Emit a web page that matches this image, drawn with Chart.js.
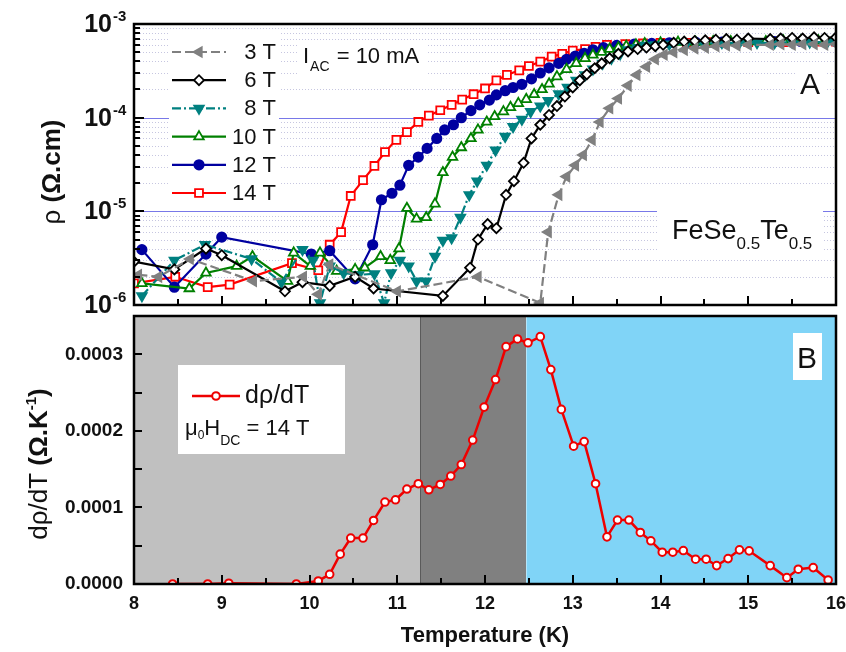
<!DOCTYPE html>
<html>
<head>
<meta charset="utf-8">
<script src="https://cdn.jsdelivr.net/npm/chart.js@4.4.1/dist/chart.umd.min.js"></script>
<style>
  html, body { margin: 0; padding: 0; background: #fff; }
  #wrap { position: relative; width: 846px; height: 652px; }
  canvas { position: absolute; left: 0; top: 0; }
</style>
</head>
<body>
<div id="wrap">
  <canvas id="lower" width="846" height="652"></canvas>
  <canvas id="upper" width="846" height="652"></canvas>
</div>
<script>
// ---- panel A : resistivity vs temperature, one series per field ----
const t3 = [8.05, 8.28, 8.64, 9.36, 9.93, 10.1, 10.23, 11.0, 11.92, 12.63, 12.72, 12.84, 12.93, 13.03, 13.12, 13.22, 13.31, 13.42, 13.52, 13.63, 13.73, 13.84, 13.94, 14.04, 14.15, 14.27, 14.39, 14.51, 14.63, 14.75, 14.87, 15.0, 15.25, 15.37, 15.5, 15.62, 15.75, 15.87, 16.0];
const r3 = [2.1e-6, 2.0e-6, 3.1e-6, 1.8e-6, 2.0e-6, 1.3e-6, 2.7e-6, 1.4e-6, 2.0e-6, 1.05e-6, 6.0e-6, 1.5e-5, 2.35e-5, 3.1e-5, 4.0e-5, 5.8e-5, 9.0e-5, 1.26e-4, 1.6e-4, 2.2e-4, 2.86e-4, 3.5e-4, 4.2e-4, 4.7e-4, 5.0e-4, 5.3e-4, 5.5e-4, 5.6e-4, 5.8e-4, 5.9e-4, 5.9e-4, 6.0e-4, 6.0e-4, 6.1e-4, 6.0e-4, 6.1e-4, 6.1e-4, 6.0e-4, 6.1e-4];

const t6 = [8.0, 8.46, 8.82, 9.0, 9.72, 9.92, 10.23, 10.52, 10.73, 11.52, 11.83, 11.92, 12.03, 12.13, 12.24, 12.33, 12.44, 12.53, 12.63, 12.73, 12.82, 12.91, 13.0, 13.08, 13.16, 13.25, 13.33, 13.42, 13.52, 13.63, 13.74, 13.84, 13.94, 14.03, 14.15, 14.27, 14.39, 14.51, 14.63, 14.75, 14.87, 15.0, 15.25, 15.37, 15.5, 15.62, 15.75, 15.87, 16.0];
const r6 = [2.9e-6, 2.4e-6, 4.0e-6, 3.4e-6, 1.4e-6, 1.75e-6, 1.6e-6, 2.0e-6, 1.5e-6, 1.25e-6, 2.5e-6, 5.0e-6, 7.3e-6, 6.6e-6, 1.5e-5, 2.1e-5, 3.3e-5, 6.0e-5, 8.4e-5, 1.07e-4, 1.33e-4, 1.68e-4, 2.1e-4, 2.5e-4, 2.9e-4, 3.37e-4, 3.8e-4, 4.3e-4, 4.8e-4, 5.1e-4, 5.4e-4, 5.6e-4, 5.8e-4, 6.0e-4, 6.3e-4, 6.5e-4, 6.6e-4, 6.7e-4, 6.8e-4, 6.9e-4, 6.8e-4, 7.0e-4, 6.9e-4, 7.0e-4, 7.1e-4, 7.0e-4, 7.2e-4, 7.1e-4, 7.2e-4];

const t8 = [8.09, 8.46, 8.81, 9.34, 9.68, 9.92, 10.04, 10.12, 10.23, 10.39, 10.56, 10.74, 10.85, 10.93, 11.03, 11.13, 11.22, 11.33, 11.43, 11.52, 11.62, 11.72, 11.82, 11.91, 12.02, 12.12, 12.23, 12.32, 12.42, 12.52, 12.63, 12.72, 12.84, 12.94, 13.04, 13.14, 13.23, 13.34, 13.44, 13.54, 13.63, 13.74, 13.83, 13.95, 14.1, 14.3, 14.5, 14.7, 14.9, 15.1, 15.3, 15.5, 15.7, 15.9, 16.0];
const r8 = [1.25e-6, 3.0e-6, 4.4e-6, 3.1e-6, 1.75e-6, 3.9e-6, 3.0e-6, 1.05e-6, 2.6e-6, 2.2e-6, 2.1e-6, 2.15e-6, 1.05e-6, 2.2e-6, 3.0e-6, 2.6e-6, 1.8e-6, 1.8e-6, 3.3e-6, 4.9e-6, 5.2e-6, 8.6e-6, 1.5e-5, 2.1e-5, 3.1e-5, 4.5e-5, 6.3e-5, 8.0e-5, 9.6e-5, 1.16e-4, 1.33e-4, 1.52e-4, 1.79e-4, 2.1e-4, 2.5e-4, 2.86e-4, 3.3e-4, 3.8e-4, 4.3e-4, 4.8e-4, 5.3e-4, 5.6e-4, 5.9e-4, 6.0e-4, 6.1e-4, 6.2e-4, 6.2e-4, 6.3e-4, 6.3e-4, 6.3e-4, 6.3e-4, 6.4e-4, 6.4e-4, 6.4e-4, 6.4e-4];

const t10 = [8.09, 8.63, 8.82, 9.17, 9.35, 9.75, 9.82, 10.01, 10.12, 10.31, 10.52, 10.63, 10.81, 10.92, 11.02, 11.11, 11.22, 11.33, 11.43, 11.52, 11.63, 11.73, 11.84, 11.92, 12.02, 12.11, 12.21, 12.29, 12.38, 12.47, 12.56, 12.65, 12.73, 12.82, 12.93, 13.04, 13.14, 13.23, 13.33, 13.42, 13.52, 13.61, 13.72, 13.82, 14.0, 14.2, 14.4, 14.6, 14.8, 15.0, 15.2, 15.4, 15.6, 15.8, 16.0];
const r10 = [1.7e-6, 1.5e-6, 2.2e-6, 2.6e-6, 3.3e-6, 1.8e-6, 3.6e-6, 2.6e-6, 3.6e-6, 2.3e-6, 2.4e-6, 2.5e-6, 3.3e-6, 3.0e-6, 4.0e-6, 1.08e-5, 8.3e-6, 8.6e-6, 1.2e-5, 2.6e-5, 3.8e-5, 4.8e-5, 6.0e-5, 7.4e-5, 9.0e-5, 1.03e-4, 1.16e-4, 1.29e-4, 1.42e-4, 1.57e-4, 1.77e-4, 2.0e-4, 2.3e-4, 2.74e-4, 3.28e-4, 3.8e-4, 4.3e-4, 4.67e-4, 5.0e-4, 5.4e-4, 5.6e-4, 5.8e-4, 6.0e-4, 6.2e-4, 6.3e-4, 6.4e-4, 6.4e-4, 6.5e-4, 6.5e-4, 6.5e-4, 6.5e-4, 6.6e-4, 6.6e-4, 6.6e-4, 6.6e-4];

const t12 = [8.09, 8.46, 8.82, 9.0, 10.02, 10.23, 10.52, 10.72, 10.82, 10.94, 11.03, 11.13, 11.24, 11.34, 11.45, 11.54, 11.64, 11.73, 11.84, 11.94, 12.05, 12.13, 12.23, 12.32, 12.42, 12.53, 12.63, 12.73, 12.84, 12.93, 13.03, 13.13, 13.23, 13.35, 13.5, 13.7, 13.9, 14.1, 14.4, 14.7, 15.0, 15.3, 15.6, 16.0];
const r12 = [3.9e-6, 1.55e-6, 3.5e-6, 5.3e-6, 3.5e-6, 3.8e-6, 1.9e-6, 4.4e-6, 1.33e-5, 1.56e-5, 1.9e-5, 3.1e-5, 3.8e-5, 4.7e-5, 6.0e-5, 7.4e-5, 8.4e-5, 1.0e-4, 1.19e-4, 1.37e-4, 1.54e-4, 1.75e-4, 1.94e-4, 2.1e-4, 2.27e-4, 2.6e-4, 3.0e-4, 3.4e-4, 3.8e-4, 4.2e-4, 4.55e-4, 4.87e-4, 5.3e-4, 5.6e-4, 5.9e-4, 6.1e-4, 6.2e-4, 6.3e-4, 6.4e-4, 6.4e-4, 6.5e-4, 6.5e-4, 6.5e-4, 6.5e-4];

const t14 = [8.0, 8.47, 8.84, 9.09, 9.8, 10.1, 10.23, 10.36, 10.47, 10.61, 10.74, 10.86, 10.99, 11.11, 11.24, 11.36, 11.49, 11.62, 11.74, 11.87, 12.0, 12.13, 12.25, 12.39, 12.5, 12.63, 12.76, 12.88, 13.0, 13.14, 13.26, 13.39, 13.6, 13.8, 14.0, 14.3, 14.6, 15.0, 15.4, 15.8, 16.0];
const r14 = [1.7e-6, 2.0e-6, 1.55e-6, 1.65e-6, 2.8e-6, 2.35e-6, 4.4e-6, 6.0e-6, 1.46e-5, 2.15e-5, 3.05e-5, 4.3e-5, 5.8e-5, 7.0e-5, 9.0e-5, 1.05e-4, 1.2e-4, 1.37e-4, 1.56e-4, 1.78e-4, 2.05e-4, 2.5e-4, 2.86e-4, 3.2e-4, 3.56e-4, 3.96e-4, 4.48e-4, 4.8e-4, 5.2e-4, 5.4e-4, 5.7e-4, 6.0e-4, 6.1e-4, 6.2e-4, 6.3e-4, 6.3e-4, 6.4e-4, 6.4e-4, 6.4e-4, 6.5e-4, 6.5e-4];

const fieldLabels = ['3 T', '6 T', '8 T', '10 T', '12 T', '14 T'];
const seriesT = [t3, t6, t8, t10, t12, t14];
const seriesR = [r3, r6, r8, r10, r12, r14];
const decadeValues = [1e-6, 1e-5, 1e-4, 1e-3];
const decadeLabels = ['-6', '-5', '-4', '-3'];

// ---- panel B : derivative at 14 T ----
const dT = [8.44, 8.84, 9.08, 9.85, 10.1, 10.23, 10.35, 10.47, 10.61, 10.73, 10.86, 10.98, 11.11, 11.24, 11.36, 11.49, 11.61, 11.73, 11.86, 11.99, 12.12, 12.24, 12.37, 12.49, 12.63, 12.75, 12.87, 13.01, 13.13, 13.26, 13.39, 13.51, 13.64, 13.77, 13.89, 14.02, 14.14, 14.26, 14.4, 14.52, 14.64, 14.77, 14.9, 15.01, 15.25, 15.44, 15.57, 15.74, 15.91];
const dRho = [0, 0, 0.000001, 0, 0.000004, 0.0000127, 0.000039, 0.00006, 0.00006, 0.000083, 0.000107, 0.00011, 0.000124, 0.000131, 0.000123, 0.00013, 0.000141, 0.000156, 0.000188, 0.000231, 0.000267, 0.00031, 0.00032, 0.000315, 0.000323, 0.00028, 0.000228, 0.00018, 0.000186, 0.000131, 0.0000616, 0.0000835, 0.0000835, 0.0000673, 0.0000564, 0.0000415, 0.0000415, 0.0000437, 0.0000324, 0.0000324, 0.000024, 0.0000332, 0.0000446, 0.0000433, 0.000024, 0.0000083, 0.0000193, 0.0000214, 0.0000052];
const regionEdges = [8, 11.26, 12.47, 16];
const derivTicks = [0, 0.0001, 0.0002, 0.0003];
const derivTickLabels = ['0.0000', '0.0001', '0.0002', '0.0003'];
const tempTicks = [8, 9, 10, 11, 12, 13, 14, 15, 16];

// styles
const F = '"Liberation Sans", Arial, Helvetica, sans-serif';
const styles = [
  { color: '#808080', point: 'triangle', rot: -90, fill: '#808080', dash: [9, 4], r: 5.5 },
  { color: '#000000', point: 'rectRot', rot: 0, fill: '#ffffff', dash: [], r: 5 },
  { color: '#008080', point: 'triangle', rot: 180, fill: '#008080', dash: [9, 3, 2, 3], r: 5.5 },
  { color: '#008000', point: 'triangle', rot: 0, fill: '#ffffff', dash: [], r: 5.5 },
  { color: '#0000a0', point: 'circle', rot: 0, fill: '#0000a0', dash: [], r: 4.7 },
  { color: '#ff0000', point: 'rect', rot: 0, fill: '#ffffff', dash: [], r: 5.6 }
];
const regionColors = ['#c0c0c0', '#808080', '#80d4f7'];

function txt(ctx, s, x, y, font, align, base) {
  ctx.font = font;
  ctx.textAlign = align || 'left';
  ctx.textBaseline = base || 'alphabetic';
  ctx.fillText(s, x, y);
  return ctx.measureText(s).width;
}
function hline(ctx, x1, x2, y) { ctx.beginPath(); ctx.moveTo(x1, y); ctx.lineTo(x2, y); ctx.stroke(); }
function vline(ctx, x, y1, y2) { ctx.beginPath(); ctx.moveTo(x, y1); ctx.lineTo(x, y2); ctx.stroke(); }

function marker(ctx, st, x, y) {
  ctx.save();
  ctx.fillStyle = st.fill;
  ctx.strokeStyle = st.color;
  ctx.lineWidth = 1.8;
  ctx.setLineDash([]);
  Chart.helpers.drawPoint(ctx, { pointStyle: st.point, radius: st.r, rotation: st.rot, borderWidth: 1.8 }, x, y);
  ctx.restore();
}

function tempTickMarks(ctx, a, x) {
  ctx.strokeStyle = '#000';
  ctx.lineWidth = 2;
  for (let v = 8.5; v < 16; v += 0.5) {
    const px = Math.round(x.getPixelForValue(v));
    const len = Number.isInteger(v) ? 9 : 6;
    vline(ctx, px, a.bottom, a.bottom - len);
  }
}

// ---- panel A decorations ----
const upperDecor = {
  id: 'upperDecor',
  beforeDatasetsDraw(chart) {
    const { ctx, chartArea: a, scales: { y } } = chart;
    ctx.save();
    ctx.lineWidth = 1;
    ctx.strokeStyle = '#c6c6e0';
    ctx.setLineDash([1, 2]);
    for (let e = -6; e < -3; e++) {
      for (let m = 2; m < 10; m++) {
        const py = Math.round(y.getPixelForValue(m * Math.pow(10, e))) + 0.5;
        hline(ctx, a.left, a.right, py);
      }
    }
    ctx.setLineDash([]);
    ctx.strokeStyle = '#7878e8';
    [1e-5, 1e-4].forEach(v => hline(ctx, a.left, a.right, Math.round(y.getPixelForValue(v)) + 0.5));
    // white boxes under the legend and the labels
    ctx.fillStyle = '#fff';
    ctx.fillRect(169, 30, 110, 176);
    ctx.fillRect(298, 40, 128, 40);
    ctx.fillRect(657, 206, 166, 50);
    ctx.fillRect(796, 66, 30, 36);
    ctx.restore();
  },
  afterDraw(chart) {
    const { ctx, chartArea: a, scales: { x, y } } = chart;
    ctx.save();
    ctx.fillStyle = '#000';
    // legend
    styles.forEach((st, i) => {
      const cy = 52 + i * 28.2;
      ctx.strokeStyle = st.color;
      ctx.lineWidth = 2.2;
      ctx.setLineDash(st.dash);
      hline(ctx, 172, 226, cy);
      ctx.setLineDash([]);
      marker(ctx, st, 199, cy);
      ctx.fillStyle = '#111';
      txt(ctx, fieldLabels[i], 276, cy + 1, '22px ' + F, 'right', 'middle');
    });
    // text labels
    ctx.fillStyle = '#111';
    let w = txt(ctx, 'I', 303, 63, '22px ' + F);
    w += txt(ctx, 'AC', 304 + w, 71, '14px ' + F);
    txt(ctx, ' = 10 mA', 305 + w, 63, '22px ' + F);
    txt(ctx, 'A', 810, 94, '30px ' + F, 'center');
    let fx = 672;
    fx += txt(ctx, 'FeSe', fx, 239, '27px ' + F);
    fx += txt(ctx, '0.5', fx, 249, '17px ' + F);
    fx += txt(ctx, 'Te', fx, 239, '27px ' + F);
    txt(ctx, '0.5', fx, 249, '17px ' + F);

    // ticks
    tempTickMarks(ctx, a, x);
    ctx.lineWidth = 2;
    for (let e = -6; e < -3; e++) {
      for (let m = 1; m < 10; m++) {
        if (e === -6 && m === 1) continue;
        const py = Math.round(y.getPixelForValue(m * Math.pow(10, e)));
        hline(ctx, a.left, a.left + (m === 1 ? 10 : 6), py);
      }
    }
    // frame
    ctx.lineWidth = 2.5;
    ctx.strokeRect(a.left, a.top, a.right - a.left, a.bottom - a.top);

    // y tick labels 10^n
    ctx.fillStyle = '#111';
    decadeValues.forEach((v, i) => {
      const py = y.getPixelForValue(v);
      txt(ctx, '10', 112, py + 1, 'bold 25px ' + F, 'right', 'middle');
      txt(ctx, decadeLabels[i], 113, py - 7, 'bold 15px ' + F, 'left', 'middle');
    });
    // y title
    ctx.translate(53, 172);
    ctx.rotate(-Math.PI / 2);
    ctx.font = '26px ' + F;
    const w1 = ctx.measureText('ρ ').width;
    ctx.font = 'bold 26px ' + F;
    const w2 = ctx.measureText('(Ω.cm)').width;
    txt(ctx, 'ρ ', -(w1 + w2) / 2, 0, '26px ' + F, 'left', 'middle');
    txt(ctx, '(Ω.cm)', -(w1 + w2) / 2 + w1, 0, 'bold 26px ' + F, 'left', 'middle');
    ctx.restore();
  }
};

// ---- panel B decorations ----
const lowerDecor = {
  id: 'lowerDecor',
  beforeDatasetsDraw(chart) {
    const { ctx, chartArea: a, scales: { x } } = chart;
    ctx.save();
    for (let i = 0; i < regionColors.length; i++) {
      const x1 = x.getPixelForValue(regionEdges[i]);
      const x2 = x.getPixelForValue(regionEdges[i + 1]);
      ctx.fillStyle = regionColors[i];
      ctx.fillRect(x1, a.top, x2 - x1, a.bottom - a.top);
    }
    ctx.lineWidth = 1;
    ctx.strokeStyle = '#5a5a5a';
    vline(ctx, Math.round(x.getPixelForValue(regionEdges[1])) + 0.5, a.top, a.bottom);
    ctx.strokeStyle = '#b4e6fb';
    vline(ctx, Math.round(x.getPixelForValue(regionEdges[2])) + 0.5, a.top, a.bottom);
    ctx.fillStyle = '#fff';
    ctx.fillRect(178, 365, 167, 89);
    ctx.fillRect(793, 333, 29, 47);
    ctx.restore();
  },
  afterDraw(chart) {
    const { ctx, chartArea: a, scales: { x, y } } = chart;
    ctx.save();
    // legend
    ctx.strokeStyle = '#ee0000';
    ctx.lineWidth = 2.5;
    hline(ctx, 192, 240, 396);
    ctx.fillStyle = '#fff';
    ctx.lineWidth = 2;
    ctx.beginPath();
    ctx.arc(216, 396, 3.8, 0, Math.PI * 2);
    ctx.fill();
    ctx.stroke();
    ctx.fillStyle = '#111';
    txt(ctx, 'dρ/dT', 245, 396, '25px ' + F, 'left', 'middle');
    let mx = 185;
    mx += txt(ctx, 'μ', mx, 435, '22px ' + F);
    mx += txt(ctx, '0', mx, 439, '12px ' + F);
    mx += txt(ctx, 'H', mx, 435, '22px ' + F);
    mx += txt(ctx, 'DC', mx, 445, '14px ' + F);
    txt(ctx, ' = 14 T', mx, 435, '22px ' + F);
    txt(ctx, 'B', 807, 368, '30px ' + F, 'center');

    // ticks
    tempTickMarks(ctx, a, x);
    ctx.lineWidth = 2;
    for (let v = 0.00005; v < 0.00035; v += 0.00005) {
      hline(ctx, a.left, a.left + 8, Math.round(y.getPixelForValue(v)));
    }
    ctx.lineWidth = 2.5;
    ctx.strokeRect(a.left, a.top, a.right - a.left, a.bottom - a.top);

    // tick labels
    ctx.fillStyle = '#111';
    derivTicks.forEach((v, i) => {
      txt(ctx, derivTickLabels[i], 123, y.getPixelForValue(v), 'bold 19px ' + F, 'right', 'middle');
    });
    tempTicks.forEach(v => {
      txt(ctx, String(v), x.getPixelForValue(v), 604, 'bold 18px ' + F, 'center', 'middle');
    });
    txt(ctx, 'Temperature (K)', 485, 636, 'bold 22px ' + F, 'center', 'middle');

    // y title
    ctx.translate(40, 464);
    ctx.rotate(-Math.PI / 2);
    const fr = '26px ' + F, fb = 'bold 26px ' + F, fs = 'bold 15px ' + F;
    ctx.font = fr; const a1 = ctx.measureText('dρ/dT ').width;
    ctx.font = fb; const a2 = ctx.measureText('(Ω.K').width;
    ctx.font = fs; const a3 = ctx.measureText('-1').width;
    ctx.font = fb; const a4 = ctx.measureText(')').width;
    let tx = -(a1 + a2 + a3 + a4) / 2;
    tx += txt(ctx, 'dρ/dT ', tx, 0, fr, 'left', 'middle');
    tx += txt(ctx, '(Ω.K', tx, 0, fb, 'left', 'middle');
    tx += txt(ctx, '-1', tx, -8, fs, 'left', 'middle');
    txt(ctx, ')', tx, 0, fb, 'left', 'middle');
    ctx.restore();
  }
};

const upperSets = seriesT.map((ts, i) => ({
  label: fieldLabels[i],
  data: ts.map((t, k) => ({ x: t, y: seriesR[i][k] })),
  borderColor: styles[i].color,
  borderWidth: 2.2,
  borderDash: styles[i].dash,
  pointStyle: styles[i].point,
  pointRotation: styles[i].rot,
  pointRadius: styles[i].r,
  pointBackgroundColor: styles[i].fill,
  pointBorderColor: styles[i].color,
  pointBorderWidth: 1.8,
  tension: 0,
  fill: false
}));

new Chart(document.getElementById('upper'), {
  type: 'line',
  data: { datasets: upperSets },
  options: {
    responsive: false,
    animation: false,
    devicePixelRatio: 1,
    layout: { padding: { left: 134, right: 10, top: 24, bottom: 652 - 305 } },
    plugins: { legend: { display: false }, tooltip: { enabled: false } },
    scales: {
      x: { type: 'linear', min: 8, max: 16, display: false },
      y: { type: 'logarithmic', min: 1e-6, max: 1e-3, display: false }
    }
  },
  plugins: [upperDecor]
});

new Chart(document.getElementById('lower'), {
  type: 'line',
  data: {
    datasets: [{
      label: 'dρ/dT',
      data: dT.map((t, k) => ({ x: t, y: dRho[k] })),
      borderColor: '#ee0000',
      borderWidth: 2.5,
      pointStyle: 'circle',
      pointRadius: 3.8,
      pointBackgroundColor: '#ffffff',
      pointBorderColor: '#ee0000',
      pointBorderWidth: 2,
      tension: 0,
      fill: false
    }]
  },
  options: {
    responsive: false,
    animation: false,
    devicePixelRatio: 1,
    layout: { padding: { left: 134, right: 10, top: 316, bottom: 652 - 584 } },
    plugins: { legend: { display: false }, tooltip: { enabled: false } },
    scales: {
      x: { type: 'linear', min: 8, max: 16, display: false },
      y: { type: 'linear', min: 0, max: 0.00035, display: false }
    }
  },
  plugins: [lowerDecor]
});
</script>
</body>
</html>
